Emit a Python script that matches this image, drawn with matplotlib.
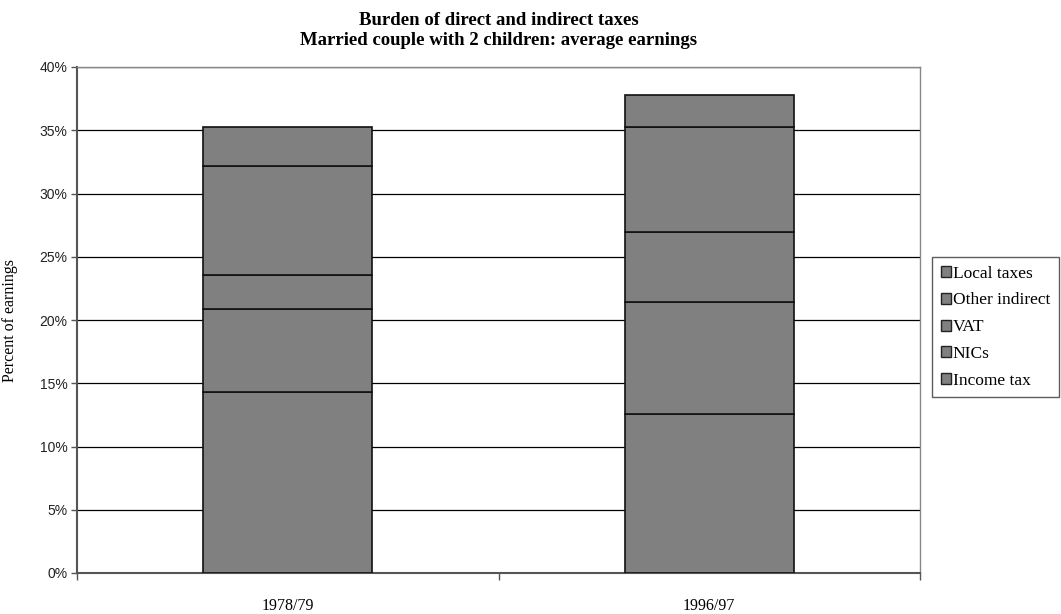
import matplotlib
matplotlib.use("Agg")
import matplotlib.pyplot as plt
import numpy as np
from matplotlib.ticker import FuncFormatter, FixedLocator
from matplotlib.legend_handler import HandlerPatch
from matplotlib.patches import Rectangle

years = ["1978/79", "1996/97"]
series = ["Income tax", "NICs", "VAT", "Other indirect", "Local taxes"]
income_tax = [14.3, 12.6]
nics = [6.55, 8.8]
vat = [2.7, 5.55]
other_indirect = [8.65, 8.3]
local_taxes = [3.05, 2.55]
values = [income_tax, nics, vat, other_indirect, local_taxes]

serif = ["Liberation Serif", "DejaVu Serif"]
sans = ["Liberation Sans", "DejaVu Sans"]

fig = plt.figure(figsize=(10.61, 6.14), dpi=100)
ax = fig.add_axes([77 / 1061, 41 / 614, (920 - 77) / 1061, (573 - 67) / 614])

x = np.arange(len(years))
bottom = np.zeros(len(years))
handles = []
for name, vals in zip(series, values):
    b = ax.bar(x, vals, width=0.4, bottom=bottom, color="#808080",
               edgecolor="#111111", linewidth=1.2, label=name, zorder=3)
    handles.append(b)
    bottom += np.array(vals)

ax.set_xlim(-0.5, 1.5)
ax.set_ylim(0, 40)
ax.set_yticks(np.arange(0, 41, 5))
ax.yaxis.set_major_formatter(FuncFormatter(lambda v, p: f"{int(v)}%"))
ax.yaxis.grid(True, color="#000000", linewidth=0.9, zorder=0)

ax.set_xticks(x)
ax.set_xticklabels(years, fontfamily=serif, fontsize=11.5)
ax.xaxis.set_minor_locator(FixedLocator([-0.5, 0.5, 1.5]))
ax.tick_params(axis="x", which="major", length=0, pad=18)
ax.tick_params(axis="x", which="minor", length=5, width=1, color="#555555", direction="out")
ax.tick_params(axis="y", length=4, width=1, color="#555555", direction="out", labelsize=10, pad=3)
for lbl in ax.get_yticklabels():
    lbl.set_fontfamily(sans)
    lbl.set_color("#222222")

for side in ["top", "right"]:
    ax.spines[side].set_color("#888888")
    ax.spines[side].set_linewidth(1)
for side in ["left", "bottom"]:
    ax.spines[side].set_color("#555555")
    ax.spines[side].set_linewidth(1.5)

ax.set_ylabel("Percent of earnings", fontfamily=serif, fontsize=11.5, labelpad=15)

fig.text(0.47, 0.981, "Burden of direct and indirect taxes\nMarried couple with 2 children: average earnings",
         ha="center", va="top", fontfamily=serif, fontweight="bold", fontsize=13.5, linespacing=1.25)


def raised_square(legend, orig_handle, xdescent, ydescent, width, height, fontsize):
    side = min(width, height)
    return Rectangle((-xdescent, -ydescent + height - side * 0.75), side, side)


leg = fig.legend(handles[::-1], series[::-1], loc="upper left",
                 bbox_to_anchor=(932 / 1061, 1 - 257 / 614),
                 prop={"family": serif, "size": 12.5}, frameon=True, fancybox=False,
                 handlelength=0.6, handleheight=0.6, handletextpad=0.1,
                 borderpad=0.5, labelspacing=0.62, borderaxespad=0,
                 handler_map={type(handles[0].patches[0]): HandlerPatch(patch_func=raised_square)})
for h in leg.legend_handles:
    h.set_facecolor("#808080")
    h.set_edgecolor("#222222")
    h.set_linewidth(1)
leg.get_frame().set_edgecolor("#333333")
leg.get_frame().set_linewidth(1)

fig.savefig("out.png", dpi=100)
